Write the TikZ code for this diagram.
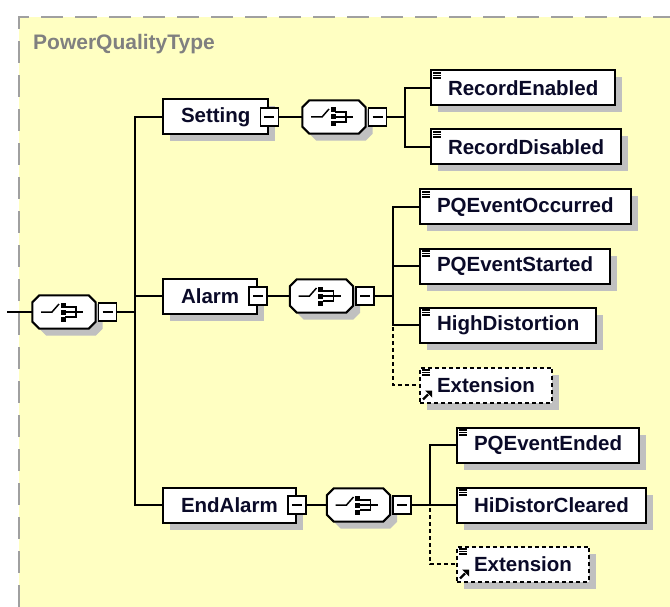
\documentclass[tikz,border=0pt]{standalone}
\usepackage{fontspec}
\setmainfont{Liberation Sans}
\usetikzlibrary{arrows, calc, positioning, shadows}
\definecolor{bgYellow}{RGB}{255,255,194}
\definecolor{shadowGray}{RGB}{192,192,192}
\definecolor{frameGray}{RGB}{160,160,160}
\definecolor{titleGray}{RGB}{128,128,128}
\definecolor{labelInk}{RGB}{10,10,40}
\tikzset{
    connLine/.style={line width=2pt},
    connOpt/.style={line width=2pt, dash pattern=on 4pt off 3pt},
    elemBox/.style={rectangle, draw, line width=2pt, fill=white, minimum height=35pt, inner xsep=17pt, inner ysep=0pt, text=labelInk, font=\fontsize{20.5}{24}\selectfont\bfseries, drop shadow={shadow xshift=7pt, shadow yshift=-7pt, fill=shadowGray, opacity=1}},
    extBox/.style={elemBox, dash pattern=on 4pt off 3pt},
    compBox/.style={elemBox, inner xsep=18pt},
    minusBox/.style={rectangle, draw, line width=1.6pt, fill=white, minimum width=18pt, minimum height=18pt, inner sep=0pt, path picture={\draw[line width=1.6pt] ([xshift=4pt]path picture bounding box.west) -- ([xshift=-4pt]path picture bounding box.east);}},
    seqArea/.style={rectangle, inner sep=0pt, minimum width=63pt, minimum height=33pt},
    iconLine/.style={line width=1.1pt},
    extArrow/.style={line width=2.2pt},
    titleText/.style={text=titleGray, font=\fontsize{21}{25}\selectfont\bfseries, inner sep=0pt},
}
\newcommand{\drawElem}[4][elemBox]{
    \node[#1, anchor=west] (#2) at (#3) {#4};
    \foreach \dy in {3.5,6,8.5}
        \draw[iconLine] ($(#2.north west)+(3,\dy)$) -- ++(8,0);
}
\newcommand{\drawExt}[3]{
    \drawElem[extBox]{#1}{#2}{#3}
    % reference mark
    \draw[extArrow] ($(#1.south west)+(4,-4)$) -- ++(5,-5);
    \fill ($(#1.south west)+(13,-13)$) -- ++(-7,0) -- ++(7,7) -- cycle;
}
\newcommand{\drawSeq}[2]{
    \node[seqArea] (#1) at (#2) {};
    % octagon with its shadow
    \draw[connLine, fill=white, preaction={fill=shadowGray, transform canvas={xshift=7pt, yshift=-7pt}}]
        ($(#1.north west)+(7,0)$) -- ($(#1.north east)+(-7,0)$) -- ($(#1.north east)+(0,7)$)
        -- ($(#1.south east)+(0,-7)$) -- ($(#1.south east)+(-7,0)$) -- ($(#1.south west)+(7,0)$)
        -- ($(#1.south west)+(0,-7)$) -- ($(#1.north west)+(0,7)$) -- cycle;
    \draw[line width=1.5pt] ($(#1)+(-23,0)$) -- ($(#1)+(-12,0)$) -- ($(#1)+(-5,-8)$);
    \foreach \dy in {-7,0,7}
        \fill ($(#1)+(-3.5,\dy-2.5)$) rectangle ++(5,5);
    \draw[line width=1.5pt] ($(#1)+(1,-5)$) -- ++(11,0) -- ++(0,10) -- ++(-11,0);
    \draw[line width=1.5pt] ($(#1)+(1,0)$) -- ++(18,0);
    \node[minusBox, anchor=west] (#1M) at ([xshift=2pt]#1.east) {};
}

\begin{document}
\begin{tikzpicture}[x=1pt, y=-1pt]
    \useasboundingbox (0,0) rectangle (670,607);
    \fill[bgYellow] (19,17) rectangle (670,607);
    \draw[frameGray, line width=1.8pt, dash pattern=on 22pt off 12pt] (19,607) -- (19,17) -- (670,17);
    \node[titleText, anchor=west] (title) at (33,44) {PowerQualityType};

    \coordinate (rootIn) at (7,312);
    \drawSeq{seqRoot}{64,312}

    \node[compBox, anchor=west] (setting) at (162,117) {Setting\hspace{6pt}};
    \node[minusBox] (settingM) at (setting.east) {};
    \node[compBox, anchor=west] (alarm) at (162,296) {Alarm\hspace{6pt}};
    \node[minusBox] (alarmM) at (alarm.east) {};
    \node[compBox, anchor=west] (endAlarm) at (162,505) {EndAlarm\hspace{6pt}};
    \node[minusBox] (endAlarmM) at (endAlarm.east) {};

    \drawSeq{seqSetting}{334,117}
    \drawSeq{seqAlarm}{321.5,296}
    \drawSeq{seqEnd}{358.5,505}

    \drawElem{recEnabled}{430,88}{RecordEnabled}
    \drawElem{recDisabled}{430,147}{RecordDisabled}
    \drawElem{pqOccurred}{419,207}{PQEventOccurred}
    \drawElem{pqStarted}{419,266}{PQEventStarted}
    \drawElem{highDist}{419,325}{HighDistortion}
    \drawExt{extAlarm}{419,385}{Extension}
    \drawElem{pqEnded}{456,445}{PQEventEnded}
    \drawElem{hiDistor}{456,505}{HiDistorCleared}
    \drawExt{extEnd}{456,564}{Extension}

    \draw[connLine] (rootIn) -- (seqRoot.west);
    \foreach \kid in {setting, alarm, endAlarm}
        \draw[connLine] (seqRootM.east) -- ++(18,0) |- (\kid.west);
    \draw[connLine] (settingM.east) -- (seqSetting.west);
    \draw[connLine] (alarmM.east) -- (seqAlarm.west);
    \draw[connLine] (endAlarmM.east) -- (seqEnd.west);

    \foreach \kid in {recEnabled, recDisabled}
        \draw[connLine] (seqSettingM.east) -- ++(18,0) |- (\kid.west);
    \draw[connOpt] (seqAlarmM.east) -- ++(18,0) |- (extAlarm.west);
    \foreach \kid in {pqOccurred, pqStarted, highDist}
        \draw[connLine] (seqAlarmM.east) -- ++(18,0) |- (\kid.west);
    \draw[connOpt] (seqEndM.east) -- ++(18,0) |- (extEnd.west);
    \foreach \kid in {pqEnded, hiDistor}
        \draw[connLine] (seqEndM.east) -- ++(18,0) |- (\kid.west);
\end{tikzpicture}
\end{document}
